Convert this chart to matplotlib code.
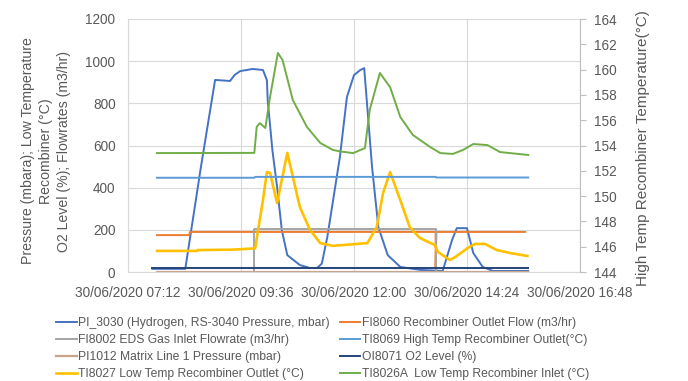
import matplotlib
matplotlib.use("Agg")
import matplotlib.pyplot as plt
import matplotlib.dates as mdates
from matplotlib import font_manager
import pandas as pd

DAY = "2020-06-30 "

# PI_3030 hydrogen pressure (mbar)
pi3030_t = ["07:43", "08:25", "08:45", "09:03", "09:22", "09:28", "09:35", "09:51", "10:04",
            "10:09", "10:10", "10:16", "10:22", "10:28", "10:35", "10:51", "11:04", "11:13",
            "11:19", "11:26", "11:42", "11:51", "12:00", "12:08", "12:13", "12:23", "12:31",
            "12:43", "12:59", "13:24", "13:53", "14:05", "14:11", "14:24", "14:32", "14:44",
            "14:57", "15:42"]
pi3030_v = [15, 15, 500, 911, 906, 935, 953, 963, 958,
            910, 816, 578, 403, 199, 80, 33, 19, 19,
            40, 166, 545, 830, 934, 958, 967, 498, 213,
            80, 24, 10, 5, 152, 208, 208, 90, 24,
            5, 5]

# FI8060 recombiner outlet flow (m3/hr)
fi8060_t = ["07:49", "08:30", "08:31", "13:44", "13:44", "13:45", "15:38"]
fi8060_v = [175, 175, 190, 190, 20, 190, 190]

# FI8002 EDS gas inlet flowrate (m3/hr)
fi8002_t = ["07:49", "09:53", "09:53", "13:44", "13:44", "15:42"]
fi8002_v = [0, 0, 203, 203, 0, 0]

# TI8069 high temp recombiner outlet (degC, right axis)
ti8069_t = ["07:49", "09:53", "09:54", "13:44", "13:45", "15:42"]
ti8069_v = [151.45, 151.45, 151.52, 151.52, 151.47, 151.47]

# PI1012 matrix line 1 pressure (mbar)
pi1012_t = ["07:49", "15:42"]
pi1012_v = [1, 1]

# OI8071 O2 level (%)
oi8071_t = ["07:43", "15:42"]
oi8071_v = [18, 18]

# TI8027 low temp recombiner outlet (degC)
ti8027_t = ["07:49", "08:40", "08:41", "09:26", "09:54", "10:04", "10:09", "10:13", "10:22",
            "10:35", "10:51", "11:04", "11:17", "11:33", "12:17", "12:29", "12:37", "12:46",
            "12:59", "13:11", "13:24", "13:43", "13:47", "14:02", "14:09", "14:25", "14:34",
            "14:47", "15:02", "15:19", "15:41"]
ti8027_v = [100, 100, 104, 106, 112, 341, 474, 470, 327,
            565, 308, 199, 137, 124, 137, 213, 374, 474,
            341, 213, 161, 128, 95, 57, 71, 114, 133,
            133, 104, 90, 76]

# TI8026A low temp recombiner inlet (degC)
ti8026a_t = ["07:49", "09:53", "09:56", "10:00", "10:07", "10:13", "10:23", "10:29", "10:42",
             "11:00", "11:17", "11:33", "11:42", "11:59", "12:14", "12:20", "12:33", "12:46",
             "12:59", "13:15", "13:37", "13:50", "14:06", "14:19", "14:32", "14:50", "15:06",
             "15:42"]
ti8026a_v = [564, 565, 688, 706, 683, 830, 1039, 1005, 816,
             688, 612, 579, 572, 564, 588, 768, 944, 877,
             735, 650, 593, 564, 560, 579, 607, 602, 569,
             555]


def when(times):
    return pd.to_datetime([DAY + t for t in times])


def pick_font(names):
    for name in names:
        try:
            font_manager.findfont(name, fallback_to_default=False)
            return name
        except Exception:
            pass
    return "DejaVu Sans"


tick_font = pick_font(["Liberation Sans", "Open Sans"])
legend_font = pick_font(["Liberation Sans Narrow", "Liberation Sans"])
plt.rcParams["font.family"] = tick_font

grey_text = "#595959"
grid_col = "#D9D9D9"

fig = plt.figure(figsize=(6.88, 3.81), dpi=100)
ax = fig.add_axes([128 / 688, 1 - 272 / 381, 452 / 688, 253 / 381])
ax2 = ax.twinx()

h_pi3030, = ax.plot(when(pi3030_t), pi3030_v, color="#4472C4", lw=1.4)
h_fi8060, = ax.plot(when(fi8060_t), fi8060_v, color="#ED7D31", lw=1.4)
h_fi8002, = ax.plot(when(fi8002_t), fi8002_v, color="#A5A5A5", lw=1.4)
h_pi1012, = ax.plot(when(pi1012_t), pi1012_v, color="#C9A388", lw=1.6)
h_oi8071, = ax.plot(when(oi8071_t), oi8071_v, color="#264478", lw=1.4)
h_ti8027, = ax.plot(when(ti8027_t), ti8027_v, color="#FFC000", lw=1.9)
h_ti8026a, = ax.plot(when(ti8026a_t), ti8026a_v, color="#70AD47", lw=1.4)
h_ti8069, = ax2.plot(when(ti8069_t), ti8069_v, color="#5B9BD5", lw=1.4)

# axes ranges and ticks
x0 = pd.Timestamp(DAY + "07:12")
x1 = pd.Timestamp(DAY + "16:48")
ax.set_xlim(x0, x1)
ax.set_xticks(pd.date_range(x0, x1, freq="144min"))
ax.xaxis.set_major_formatter(mdates.DateFormatter("%d/%m/%Y %H:%M"))
ax.set_ylim(0, 1200)
ax.set_yticks(range(0, 1201, 200))
ax2.set_ylim(144, 164)
ax2.set_yticks(range(144, 165, 2))

ax.grid(True, color=grid_col, lw=0.8)
ax.set_axisbelow(True)
for a in (ax, ax2):
    for s in a.spines.values():
        s.set_visible(False)
ax2.spines["right"].set_visible(True)
ax2.spines["right"].set_color("#BFBFBF")
ax.spines["left"].set_visible(True)
ax.spines["left"].set_color(grid_col)
ax.spines["bottom"].set_visible(True)
ax.spines["bottom"].set_color(grid_col)

ax.tick_params(axis="both", length=0, labelsize=9.8, colors=grey_text, pad=9)
ax.tick_params(axis="x", pad=10)
ax2.tick_params(axis="y", length=4, labelsize=9.8, colors=grey_text, pad=6)
ax2.tick_params(axis="y", color="#BFBFBF")

# axis titles
fig.text(46 / 688, 1 - 151 / 381,
         "Pressure (mbara); Low Temperature\nRecombiner (\u00b0C)\nO2 Level (%); Flowrates (m3/hr)",
         rotation=90, ha="center", va="center", multialignment="center",
         fontsize=10.2, color=grey_text, linespacing=1.35)
fig.text(643 / 688, 1 - 148 / 381, "High Temp Recombiner Temperature(\u00b0C)",
         rotation=90, ha="center", va="center", fontsize=11, color=grey_text)

handles = [h_pi3030, h_fi8002, h_pi1012, h_ti8027, h_fi8060, h_ti8069, h_oi8071, h_ti8026a]
labels = ["PI_3030 (Hydrogen, RS-3040 Pressure, mbar)",
          "FI8002 EDS Gas Inlet Flowrate (m3/hr)",
          "PI1012 Matrix Line 1 Pressure (mbar)",
          "TI8027 Low Temp Recombiner Outlet (\u00b0C)",
          "FI8060 Recombiner Outlet Flow (m3/hr)",
          "TI8069 High Temp Recombiner Outlet(\u00b0C)",
          "OI8071 O2 Level (%)",
          "TI8026A  Low Temp Recombiner Inlet (\u00b0C)"]
fig.legend(handles, labels, ncol=2, loc="upper left", bbox_to_anchor=(56 / 688, 1 - 317 / 381),
           frameon=False, prop={"family": legend_font, "size": 8.7}, labelcolor=grey_text,
           handlelength=1.7, handletextpad=0.15, columnspacing=0.8, labelspacing=0.42,
           borderaxespad=0, borderpad=0)

fig.savefig("out.png", dpi=100)
